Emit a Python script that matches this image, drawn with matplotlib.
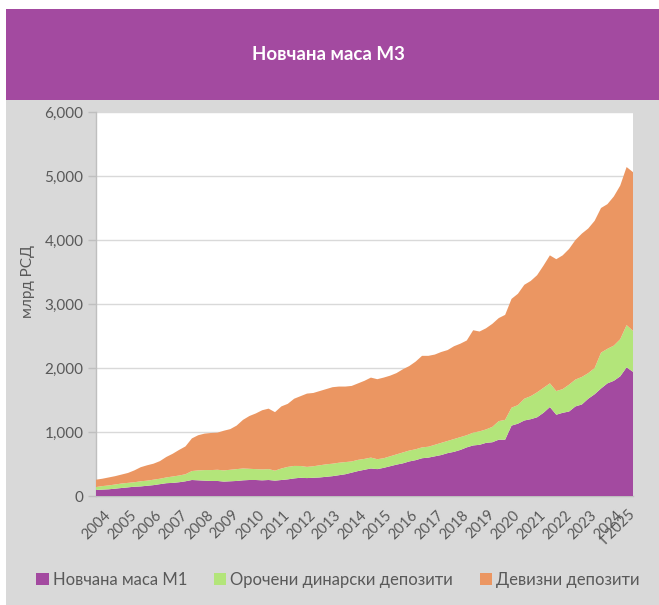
# Новчана маса М3 - stacked area
import numpy as np
import matplotlib
matplotlib.use("Agg")
import matplotlib.pyplot as plt
from matplotlib.patches import Rectangle, Patch
from matplotlib.ticker import FuncFormatter

plt.rcParams['font.family'] = ['Lato', 'DejaVu Sans']

# quarterly values, Q1 2004 .. Q1 2025 (млрд РСД)
m1 = [95, 100, 105, 115,
      125, 135, 145, 150,
      160, 170, 185, 200,
      205, 215, 230, 250,
      245, 240, 235, 235,
      225, 230, 235, 245,
      250, 250, 245, 250,
      240, 250, 260, 275,
      285, 280, 285, 290,
      300, 310, 325, 340,
      365, 390, 410, 430,
      420, 440, 465, 490,
      510, 540, 560, 590,
      600, 620, 640, 670,
      690, 720, 760, 790,
      800, 830, 840, 880,
      880, 1100, 1130, 1180,
      1200, 1230, 1300, 1390,
      1270, 1300, 1320, 1400,
      1430, 1520, 1590, 1680,
      1760, 1800, 1870, 2010,
      1940]

dinar_time = [45, 55, 60, 65,
              70, 70, 70, 80,
              80, 85, 85, 90,
              100, 105, 110, 140,
              155, 165, 170, 175,
              175, 180, 185, 185,
              175, 170, 170, 170,
              156, 180, 195, 195,
              184, 175, 180, 190,
              195, 195, 195, 190,
              175, 175, 170, 170,
              155, 150, 155, 160,
              170, 170, 170, 170,
              170, 180, 190, 190,
              200, 200, 190, 200,
              210, 210, 240, 290,
              310, 280, 290, 340,
              360, 390, 390, 370,
              370, 370, 420, 420,
              430, 400, 410, 560,
              540, 550, 580, 660,
              640]

fx_dep = [115, 115, 125, 130,
          140, 155, 185, 220,
          240, 250, 275, 320,
          355, 400, 435, 510,
          550, 570, 580, 580,
          620, 635, 680, 760,
          825, 870, 925, 945,
          914, 970, 985, 1050,
          1091, 1145, 1145, 1160,
          1175, 1195, 1190, 1180,
          1180, 1195, 1220, 1250,
          1250, 1260, 1260, 1270,
          1300, 1320, 1370, 1430,
          1420, 1410, 1420, 1420,
          1450, 1460, 1480, 1600,
          1560, 1580, 1610, 1610,
          1640, 1700, 1740, 1780,
          1800, 1830, 1910, 2000,
          2060, 2090, 2120, 2180,
          2240, 2260, 2300, 2260,
          2260, 2330, 2400, 2470,
          2480]

years = list(range(2004, 2025))
series_names = ['Новчана маса М1', 'Орочени динарски депозити', 'Девизни депозити']
colors = ['#A34AA0', '#B3E57A', '#EB9662']

PURPLE = '#A34AA0'
BG = '#D9D9D9'
TXT = '#595959'

x = 2004 + np.arange(len(m1)) / 4.0

fig = plt.figure(figsize=(6.59, 6.05), dpi=100)
fig.patch.set_facecolor('white')
W, H = 659, 605
fig.add_artist(Rectangle((6 / W, 0), 1, 1 - 9 / H, transform=fig.transFigure,
                         facecolor=BG, edgecolor='none', zorder=0))
fig.add_artist(Rectangle((6 / W, 1 - 100 / H), 1, 91 / H, transform=fig.transFigure,
                         facecolor=PURPLE, edgecolor='none', zorder=0))
fig.text(328 / W, 1 - 55 / H, 'Новчана маса М3', color='white', fontsize=13.5,
         fontweight='bold', ha='center', va='center')

ax = fig.add_axes([96 / W, 1 - 496 / H, (633 - 96) / W, (496 - 112) / H])
ax.set_facecolor('white')
ax.stackplot(x, m1, dinar_time, fx_dep, colors=colors, linewidth=0, zorder=3)

ax.set_xlim(2004, x[-1])
ax.set_ylim(0, 6000)
ax.set_yticks(range(0, 6001, 1000))
ax.yaxis.set_major_formatter(FuncFormatter(lambda v, p: f"{v:,.0f}"))
ax.grid(axis='y', color='#D9D9D9', linewidth=1, zorder=0)
ax.set_axisbelow(True)

xt = [y + 0.5 for y in years] + [x[-1]]
xl = [str(y) for y in years] + ['I 2025']
ax.set_xticks(xt)
ax.set_xticklabels(xl, rotation=45, ha='right', rotation_mode='anchor', va='center')
ax.tick_params(axis='x', length=0, pad=12, labelsize=10.5, labelcolor=TXT)
ax.tick_params(axis='y', length=6, color='#BFBFBF', width=1, labelsize=11, labelcolor=TXT, pad=3)

for s in ['top', 'right']:
    ax.spines[s].set_visible(False)
for s in ['left', 'bottom']:
    ax.spines[s].set_color('#BFBFBF')
    ax.spines[s].set_linewidth(1)

fig.text(28 / W, 1 - 281 / H, 'млрд РСД', rotation=90, color=TXT, fontsize=11,
         ha='center', va='center')

handles = [Patch(facecolor=c, edgecolor='none') for c in colors]
fig.legend(handles, series_names, loc='center', bbox_to_anchor=(338 / W, 1 - 580 / H),
           ncol=3, frameon=False, fontsize=12, labelcolor=TXT,
           handlelength=0.75, handleheight=0.75, handletextpad=0.25, columnspacing=1.6)

fig.savefig('out.png', dpi=100, facecolor=fig.get_facecolor())
